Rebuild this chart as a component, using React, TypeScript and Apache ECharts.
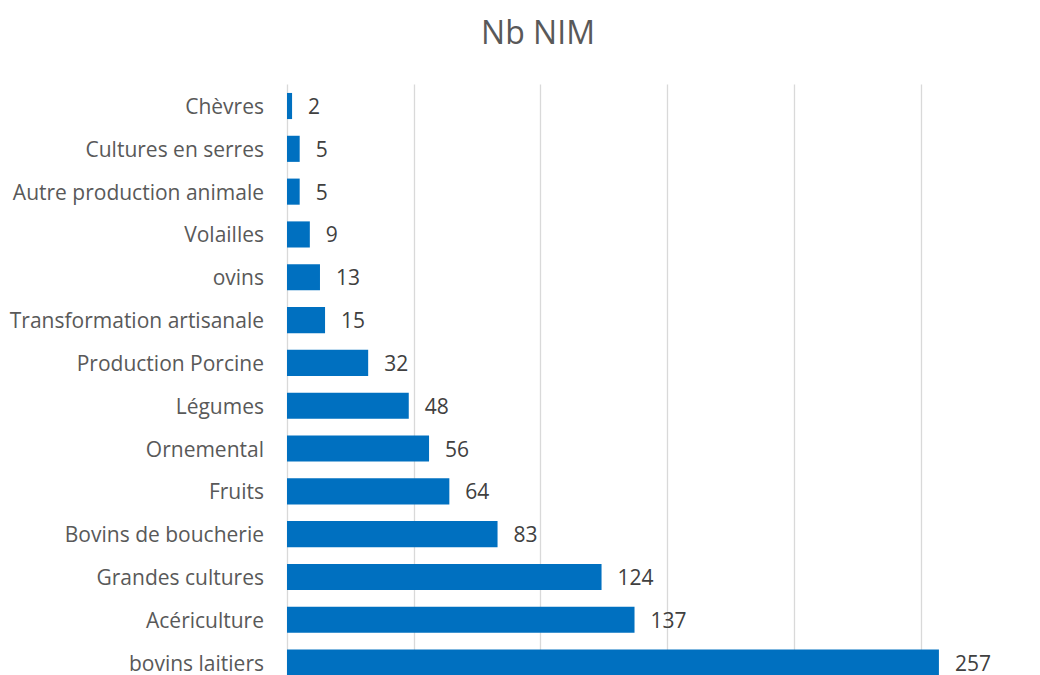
import React, { useEffect, useRef } from "react";
import * as echarts from "echarts";

const categories = [
  "bovins laitiers",
  "Acériculture",
  "Grandes cultures",
  "Bovins de boucherie",
  "Fruits",
  "Ornemental",
  "Légumes",
  "Production Porcine",
  "Transformation artisanale",
  "ovins",
  "Volailles",
  "Autre production animale",
  "Cultures en serres",
  "Chèvres",
];
const values = [257, 137, 124, 83, 64, 56, 48, 32, 15, 13, 9, 5, 5, 2];

const FONT = "Open Sans";

export default function App() {
  const ref = useRef<HTMLDivElement>(null);
  useEffect(() => {
    if (!ref.current) return;
    const chart = echarts.init(ref.current, null, { renderer: "svg" });
    chart.setOption({
      animation: false,
      backgroundColor: "#ffffff",
      title: {
        text: "Nb NIM",
        left: 533,
        textAlign: "center",
        top: 10,
        textStyle: { fontFamily: FONT, fontSize: 32, fontWeight: "normal", color: "#595959" },
      },
      grid: { left: 287, right: 0, top: 84.6, bottom: 0, containLabel: false },
      xAxis: {
        type: "value",
        min: 0,
        max: 300,
        interval: 50,
        axisLabel: { show: false },
        axisLine: { show: false },
        axisTick: { show: false },
        splitLine: { show: true, lineStyle: { color: "#d9d9d9", width: 1.3 } },
      },
      yAxis: {
        type: "category",
        data: categories,
        axisLine: { show: false },
        axisTick: { show: false },
        axisLabel: { fontFamily: FONT, fontSize: 21, color: "#595959", margin: 23 },
      },
      series: [
        {
          type: "bar",
          data: values,
          barCategoryGap: "39%",
          itemStyle: { color: "#0070C0" },
          label: {
            show: true,
            position: "right",
            distance: 16,
            fontFamily: FONT,
            fontSize: 21,
            color: "#404040",
          },
        },
      ],
    });
    return () => chart.dispose();
  }, []);
  return (
    <div
      ref={ref}
      style={{ position: "fixed", left: 0, top: 0, width: 1048, height: 684 }}
    />
  );
}
